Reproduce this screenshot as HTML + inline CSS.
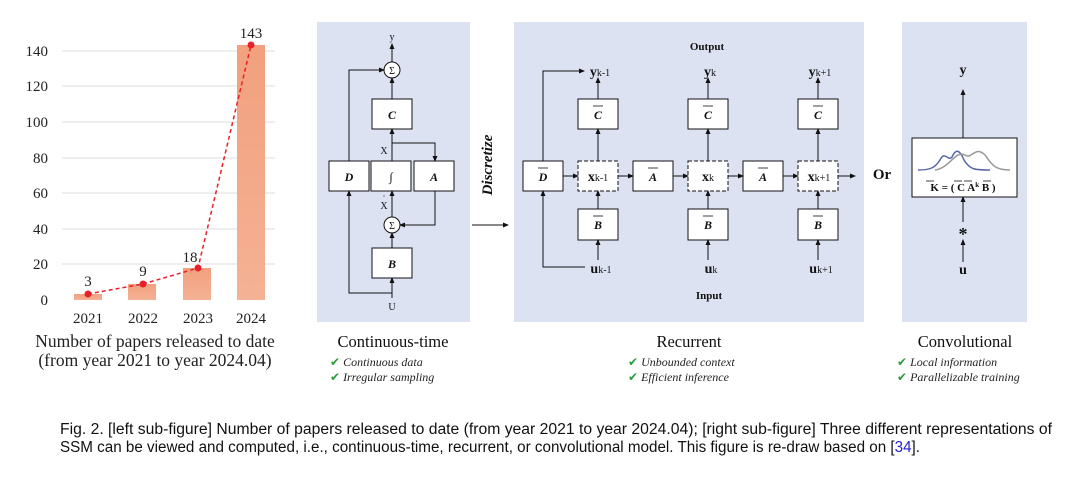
<!DOCTYPE html>
<html><head><meta charset="utf-8"><style>
body{margin:0;background:#fff;width:1080px;height:495px;overflow:hidden}
svg{display:block}
.s{font-family:"Liberation Serif",serif}
.a{font-family:"Liberation Sans",sans-serif}
</style></head><body>
<svg width="1080" height="495" viewBox="0 0 1080 495">
<defs>
<marker id="ar" markerWidth="6" markerHeight="6" refX="5" refY="3" orient="auto" markerUnits="userSpaceOnUse"><path d="M0,0.5 L6,3 L0,5.5z" fill="#111"/></marker>
<linearGradient id="bar" x1="0" x2="0" y1="0" y2="1"><stop offset="0" stop-color="#f2a07e"/><stop offset="1" stop-color="#f4b294"/></linearGradient>
</defs>
<g class="s" font-size="15" fill="#222">
<g stroke="#eee" stroke-width="2">
<line x1="62" x2="275" y1="51" y2="51"/><line x1="62" x2="275" y1="86" y2="86"/><line x1="62" x2="275" y1="122" y2="122"/><line x1="62" x2="275" y1="158" y2="158"/><line x1="62" x2="275" y1="193" y2="193"/><line x1="62" x2="275" y1="229" y2="229"/><line x1="62" x2="275" y1="264" y2="264"/>
</g>
<g text-anchor="end"><text x="48" y="56">140</text><text x="48" y="91">120</text><text x="48" y="127">100</text><text x="48" y="163">80</text><text x="48" y="198">60</text><text x="48" y="234">40</text><text x="48" y="269">20</text><text x="48" y="305">0</text></g>
<rect x="74" y="294" width="28" height="6" fill="url(#bar)"/>
<rect x="128" y="284" width="28" height="16" fill="url(#bar)"/>
<rect x="183" y="268" width="28" height="32" fill="url(#bar)"/>
<rect x="237" y="45" width="28" height="255" fill="url(#bar)"/>
<polyline points="88,294 143,284 198,268 251,45" fill="none" stroke="#e8202a" stroke-width="1.5" stroke-dasharray="4,3"/>
<g fill="#e8202a"><circle cx="88" cy="294" r="3.5"/><circle cx="143" cy="284" r="3.5"/><circle cx="198" cy="268" r="3.5"/><circle cx="251" cy="45" r="3.5"/></g>
<g text-anchor="middle"><text x="88" y="286">3</text><text x="143" y="276">9</text><text x="190" y="262">18</text><text x="251" y="38">143</text>
<text x="88" y="323">2021</text><text x="143" y="323">2022</text><text x="198" y="323">2023</text><text x="251" y="323">2024</text>
<text x="155" y="347" font-size="17.5">Number of papers released to date</text>
<text x="155" y="366" font-size="17.5">(from year 2021 to year 2024.04)</text></g>
</g>
<rect x="317" y="22" width="153" height="300" fill="#dde2f3"/>
<rect x="514" y="22" width="350" height="300" fill="#dde2f3"/>
<rect x="902" y="22" width="125" height="300" fill="#dde2f3"/>
<g stroke="#111" stroke-width="1" fill="none">
<circle cx="392" cy="70" r="8" fill="#fff"/><circle cx="392" cy="225" r="8" fill="#fff"/>
<rect x="372" y="99" width="40" height="30" fill="#fff"/>
<rect x="329" y="161" width="40" height="30" fill="#fff"/>
<rect x="371" y="161" width="40" height="30" fill="#fff"/>
<rect x="414" y="161" width="40" height="30" fill="#fff"/>
<rect x="372" y="248" width="40" height="30" fill="#fff"/>
<line x1="392" y1="62" x2="392" y2="44" marker-end="url(#ar)"/>
<line x1="392" y1="99" x2="392" y2="78" marker-end="url(#ar)"/>
<line x1="392" y1="161" x2="392" y2="129" marker-end="url(#ar)"/>
<polyline points="392,143 435,143 435,161" marker-end="url(#ar)"/>
<polyline points="349,161 349,70 384,70" marker-end="url(#ar)"/>
<polyline points="435,191 435,225 400,225" marker-end="url(#ar)"/>
<line x1="392" y1="217" x2="392" y2="191" marker-end="url(#ar)"/>
<line x1="392" y1="248" x2="392" y2="233" marker-end="url(#ar)"/>
<line x1="392" y1="298" x2="392" y2="278" marker-end="url(#ar)"/>
<polyline points="392,293 349,293 349,191" marker-end="url(#ar)"/>
<line x1="472" y1="225" x2="508" y2="225" marker-end="url(#ar)"/>
<rect x="578" y="99" width="40" height="30" fill="#fff"/><rect x="688" y="99" width="40" height="30" fill="#fff"/><rect x="798" y="99" width="40" height="30" fill="#fff"/>
<rect x="523" y="161" width="40" height="30" fill="#fff"/>
<rect x="633" y="161" width="40" height="30" fill="#fff"/><rect x="743" y="161" width="40" height="30" fill="#fff"/>
<g stroke-dasharray="4,2"><rect x="578" y="161" width="40" height="30" fill="#fff"/><rect x="688" y="161" width="40" height="30" fill="#fff"/><rect x="798" y="161" width="40" height="30" fill="#fff"/></g>
<rect x="578" y="209" width="40" height="31" fill="#fff"/><rect x="688" y="209" width="40" height="31" fill="#fff"/><rect x="798" y="209" width="40" height="31" fill="#fff"/>
<line x1="598" y1="99" x2="598" y2="78" marker-end="url(#ar)"/><line x1="708" y1="99" x2="708" y2="78" marker-end="url(#ar)"/><line x1="818" y1="99" x2="818" y2="78" marker-end="url(#ar)"/>
<line x1="598" y1="161" x2="598" y2="129" marker-end="url(#ar)"/><line x1="708" y1="161" x2="708" y2="129" marker-end="url(#ar)"/><line x1="818" y1="161" x2="818" y2="129" marker-end="url(#ar)"/>
<line x1="598" y1="209" x2="598" y2="191" marker-end="url(#ar)"/><line x1="708" y1="209" x2="708" y2="191" marker-end="url(#ar)"/><line x1="818" y1="209" x2="818" y2="191" marker-end="url(#ar)"/>
<line x1="598" y1="260" x2="598" y2="240" marker-end="url(#ar)"/><line x1="708" y1="260" x2="708" y2="240" marker-end="url(#ar)"/><line x1="818" y1="260" x2="818" y2="240" marker-end="url(#ar)"/>
<line x1="563" y1="176" x2="578" y2="176" marker-end="url(#ar)"/><line x1="618" y1="176" x2="633" y2="176" marker-end="url(#ar)"/><line x1="673" y1="176" x2="688" y2="176" marker-end="url(#ar)"/><line x1="728" y1="176" x2="743" y2="176" marker-end="url(#ar)"/><line x1="783" y1="176" x2="798" y2="176" marker-end="url(#ar)"/><line x1="838" y1="176" x2="855" y2="176" marker-end="url(#ar)"/>
<polyline points="543,161 543,71 584,71" marker-end="url(#ar)"/>
<polyline points="585,267 543,267 543,191" marker-end="url(#ar)"/>
<rect x="912" y="138" width="105" height="59" fill="#fff"/>
<line x1="963" y1="138" x2="963" y2="90" marker-end="url(#ar)"/>
<line x1="963" y1="222" x2="963" y2="197" marker-end="url(#ar)"/>
<line x1="963" y1="262" x2="963" y2="240" marker-end="url(#ar)"/>
<path d="M918,170 C930,170 935,168 940,160 C945,150 948,162 952,157 C956,148 960,150 964,160 C970,170 975,170 990,170" stroke="#5566aa" stroke-width="1.5"/>
<path d="M935,170 C950,168 955,150 965,155 C972,160 975,145 985,155 C992,165 995,170 1010,170" stroke="#999" stroke-width="1.5"/>
</g>
<g class="s" fill="#111" text-anchor="middle">
<text x="392" y="40" font-size="10">y</text>
<text x="392" y="74" font-size="10">Σ</text><text x="392" y="229" font-size="10">Σ</text>
<text x="384" y="154" font-size="10">X</text>
<text x="384" y="209" font-size="10">X</text><text x="384" y="199" font-size="9">·</text>
<text x="392" y="310" font-size="10">U</text>
<g font-style="italic" font-weight="bold" font-size="12">
<text x="392" y="119">C</text><text x="349" y="181">D</text><text x="391" y="181">∫</text><text x="434" y="181">A</text><text x="392" y="268">B</text>
<text x="598" y="119">C</text><text x="708" y="119">C</text><text x="818" y="119">C</text>
<text x="543" y="181">D</text><text x="653" y="181">A</text><text x="763" y="181">A</text>
<text x="598" y="229">B</text><text x="708" y="229">B</text><text x="818" y="229">B</text>
</g>
<g stroke="#111" stroke-width="0.8"><line x1="593" y1="106" x2="603" y2="106"/><line x1="703" y1="106" x2="713" y2="106"/><line x1="813" y1="106" x2="823" y2="106"/><line x1="538" y1="168" x2="548" y2="168"/><line x1="648" y1="168" x2="658" y2="168"/><line x1="758" y1="168" x2="768" y2="168"/><line x1="593" y1="216" x2="603" y2="216"/><line x1="703" y1="216" x2="713" y2="216"/><line x1="813" y1="216" x2="823" y2="216"/></g>
<text x="492" y="165" font-size="15" font-style="italic" font-weight="bold" transform="rotate(-90 492 165)">Discretize</text>
<text x="707" y="50" font-size="11" font-weight="bold">Output</text>
<text x="709" y="299" font-size="11" font-weight="bold">Input</text>
<g font-weight="bold" font-size="14">
<text x="600" y="76">y<tspan font-size="10" font-weight="normal">k-1</tspan></text>
<text x="710" y="76">y<tspan font-size="10" font-weight="normal">k</tspan></text>
<text x="820" y="76">y<tspan font-size="10" font-weight="normal">k+1</tspan></text>
<text x="598" y="181">x<tspan font-size="10" font-weight="normal">k-1</tspan></text>
<text x="708" y="181">x<tspan font-size="10" font-weight="normal">k</tspan></text>
<text x="819" y="181">x<tspan font-size="10" font-weight="normal">k+1</tspan></text>
<text x="601" y="273">u<tspan font-size="10" font-weight="normal">k-1</tspan></text>
<text x="711" y="273">u<tspan font-size="10" font-weight="normal">k</tspan></text>
<text x="821" y="273">u<tspan font-size="10" font-weight="normal">k+1</tspan></text>
<text x="882" y="179" font-size="15">Or</text>
<text x="963" y="74">y</text>
<text x="963" y="274">u</text>
<text x="963" y="240" font-size="18">*</text>
</g>
<text x="963" y="191" font-size="11" font-weight="bold">K = ( C A<tspan font-size="7" dy="-4">k</tspan><tspan dy="4"> B )</tspan></text>
<g stroke="#111" stroke-width="0.8"><line x1="926" y1="181" x2="934" y2="181"/><line x1="954" y1="181" x2="962" y2="181"/><line x1="964" y1="181" x2="972" y2="181"/><line x1="983" y1="181" x2="991" y2="181"/></g>
<g font-size="16.5"><text x="393" y="347">Continuous-time</text><text x="689" y="347">Recurrent</text><text x="965" y="347">Convolutional</text></g>
</g>
<g class="s" font-size="12" font-style="italic" fill="#222">
<text x="330" y="366"><tspan fill="#2a9a3a" font-style="normal">✔</tspan> Continuous data</text>
<text x="330" y="381"><tspan fill="#2a9a3a" font-style="normal">✔</tspan> Irregular sampling</text>
<text x="628" y="366"><tspan fill="#2a9a3a" font-style="normal">✔</tspan> Unbounded context</text>
<text x="628" y="381"><tspan fill="#2a9a3a" font-style="normal">✔</tspan> Efficient inference</text>
<text x="897" y="366"><tspan fill="#2a9a3a" font-style="normal">✔</tspan> Local information</text>
<text x="897" y="381"><tspan fill="#2a9a3a" font-style="normal">✔</tspan> Parallelizable training</text>
</g>
<g class="a" font-size="15.5" fill="#111">
<text x="60" y="434" textLength="992" lengthAdjust="spacingAndGlyphs">Fig. 2.  [left sub-figure] Number of papers released to date (from year 2021 to year 2024.04); [right sub-figure] Three different representations of</text>
<text x="60" y="452" textLength="860" lengthAdjust="spacingAndGlyphs">SSM can be viewed and computed, i.e., continuous-time, recurrent, or convolutional model. This figure is re-draw based on [<tspan fill="#2222cc">34</tspan>].</text>
</g>
</svg>
</body></html>
